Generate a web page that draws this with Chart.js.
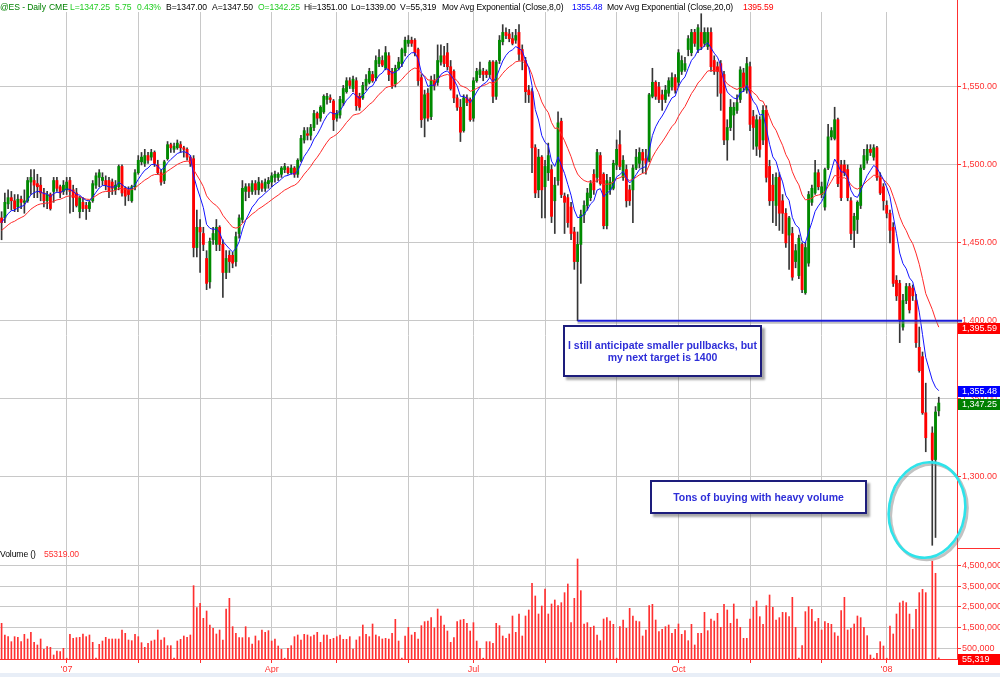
<!DOCTYPE html>
<html>
<head>
<meta charset="utf-8">
<title>@ES Daily</title>
<script src="https://cdn.jsdelivr.net/npm/chart.js@4.4.1/dist/chart.umd.min.js"></script>
<style>
  html, body { margin:0; padding:0; background:#ffffff; }
  #wrap { position:relative; width:1000px; height:677px; overflow:hidden; background:#fff;
          font-family:"Liberation Sans", Arial, Helvetica, sans-serif; }
  #c { position:absolute; left:0; top:0; }
  .t { position:absolute; top:2px; font-size:8.6px; line-height:11px; letter-spacing:-0.1px; white-space:nowrap; }
  .note { position:absolute; box-sizing:border-box; background:#fff; border:2px solid #1d1d7c;
          box-shadow:3px 3px 2px rgba(95,95,95,0.55); color:#2e2ed8; font-weight:bold;
          font-size:10.5px; line-height:12.5px; text-align:center; display:flex;
          align-items:center; justify-content:center; }
  #strip { position:absolute; left:0; top:673px; width:1000px; height:4px; background:#e8eef7; }
</style>
</head>
<body>
<div id="wrap">
  <canvas id="c" width="1000" height="677"></canvas>
  <span class="t" style="left:0px;color:#008000">@ES - Daily</span>
  <span class="t" style="left:49px;color:#008000">CME</span>
  <span class="t" style="left:70px;color:#22cc22">L=1347.25</span>
  <span class="t" style="left:115px;color:#22cc22">5.75</span>
  <span class="t" style="left:137px;color:#22cc22">0.43%</span>
  <span class="t" style="left:166px;color:#000">B=1347.00</span>
  <span class="t" style="left:212px;color:#000">A=1347.50</span>
  <span class="t" style="left:258px;color:#22cc22">O=1342.25</span>
  <span class="t" style="left:304px;color:#000">Hi=1351.00</span>
  <span class="t" style="left:351px;color:#000">Lo=1339.00</span>
  <span class="t" style="left:400px;color:#000">V=55,319</span>
  <span class="t" style="left:442px;color:#000">Mov Avg Exponential (Close,8,0)</span>
  <span class="t" style="left:572px;color:#0000ff">1355.48</span>
  <span class="t" style="left:607px;color:#000">Mov Avg Exponential (Close,20,0)</span>
  <span class="t" style="left:743px;color:#ff0000">1395.59</span>
  <span class="t" style="left:0px;top:549px;color:#000">Volume ()</span>
  <span class="t" style="left:44px;top:549px;color:#ff3030">55319.00</span>
  <div class="note" style="left:563px;top:325px;width:199px;height:52px;">I still anticipate smaller pullbacks, but<br>my next target is 1400</div>
  <div class="note" style="left:650px;top:480px;width:217px;height:34px;">Tons of buying with heavy volume</div>
  <div id="strip"></div>
</div>
<script>
// ---------------- data ----------------
const MONTH_STARTS = [20,42,61,83,103,125,145,167,189,208,230,252,272];
const MONTH_LABELS = ["'07","","","Apr","","","Jul","","","Oct","","","'08"];
const PRICE_TICKS  = [1300,1350,1400,1450,1500,1550];
const VOLUME_TICKS = [500000,1000000,1500000,2000000,2500000,3000000,3500000,4000000,4500000];

// one entry per trading-day slot; null = no session (holiday gap)
const OPEN = [
1466,1466,1475,1479,1477,1473,1478,1476,1477,1489,
1490,1488,1487,1482,1477,1481,1483,1490,1486,1483,
1484,1490,1484,1482,1470,1476,1474,1472,1477,1487,
1492,1490,1490,1490,1489,1484,1486,1499,1485,1484,
1477,1486,1495,1502,1501,1506,1505,1508,1500,1495,
1490,1504,1513,1510,1511,1513,1511,1510,1505,1504,
1447,1460,1456,1440,1425,1452,1449,1460,1449,1431,
1442,1442,1438,1456,1465,1483,1486,1483,1488,1484,
1488,1485,1488,1489,1492,1492,1494,1497,1498,1495,
1498,1494,1503,1516,1520,1519,1524,1533,1530,1534,
1542,1543,1541,1530,1532,1540,1547,1554,1549,1554,
1544,1543,1551,1553,1558,1556,1565,1567,1562,1570,
1560,1552,1562,1565,1572,1578,1580,1580,1574,1556,
1530,1546,1531,1554,1553,1566,1570,1572,1563,1560,
1543,1537,1522,1543,1542,1530,1554,1558,1560,1560,
1558,1566,1544,1567,1579,1585,1584,1581,1580,1585,
1574,1567,1548,1547,1511,1484,1505,1486,1495,1497,
1477,1490,1528,1480,1479,1473,1457,1438,1449,1468,
1474,1479,1494,1492,1506,1494,1461,1484,1485,1500,
1513,1492,1497,1484,1484,1498,1501,1508,1504,1503,
1544,1553,1550,1545,1542,1546,1550,1556,1553,1560,
1561,1574,1572,1585,1574,1585,1578,1576,1585,1567,
1563,1565,1558,1516,1524,1532,1535,1542,1559,1548,
1563,1531,1512,1529,1516,1535,1499,1487,1474,1492,
1477,1469,1455,1456,1438,1429,1449,1418,1437,1476,
1482,1495,1481,1473,1498,1518,1517,1529,1500,1500,
1497,1477,1458,1465,1474,1498,1503,1510,1505,1511,
1492,1486,1474,1469,1460,1426,1424,1396,1413,1422,
1421,1413,1383,1377,1341,null,1328,1311,1342.25];

const HIGH = [
1470,1482,1484,1483,1481,1481,1480,1484,1492,1497,
1497,1494,1492,1485,1483,1482,1492,1492,1487,1490,
1492,1492,1487,1485,1480,1479,1476,1477,1490,1495,
1497,1495,1493,1492,1491,1490,1500,1500,1486,1486,
1487,1497,1506,1508,1510,1508,1510,1509,1503,1497,
1503,1515,1514,1514,1516,1515,1512,1511,1506,1506,
1471,1465,1460,1445,1453,1460,1465,1461,1452,1445,
1445,1444,1457,1468,1490,1488,1488,1490,1490,1492,
1490,1491,1492,1495,1496,1495,1499,1501,1499,1500,
1499,1504,1519,1524,1524,1526,1535,1534,1538,1545,
1546,1545,1542,1535,1544,1551,1556,1556,1557,1556,
1546,1553,1558,1562,1560,1570,1574,1570,1576,1572,
1562,1564,1569,1575,1582,1583,1582,1581,1575,1558,
1548,1549,1557,1558,1577,1577,1576,1578,1567,1561,
1545,1542,1545,1545,1543,1556,1562,1566,1562,1561,
1567,1567,1567,1583,1590,1588,1587,1585,1587,1590,
1577,1569,1551,1549,1513,1510,1506,1503,1514,1500,
1492,1534,1530,1482,1481,1476,1460,1457,1471,1477,
1485,1490,1497,1510,1508,1495,1494,1492,1503,1516,
1522,1506,1500,1487,1500,1510,1511,1510,1510,1546,
1562,1554,1553,1548,1551,1556,1559,1558,1574,1570,
1569,1583,1587,1587,1590,1597,1588,1588,1588,1570,
1566,1567,1560,1529,1542,1540,1545,1563,1562,1569,
1566,1535,1532,1531,1538,1538,1503,1494,1495,1495,
1481,1472,1467,1460,1449,1455,1450,1450,1483,1487,
1503,1497,1489,1498,1526,1524,1537,1530,1503,1503,
1500,1479,1469,1477,1500,1510,1513,1513,1513,1512,
1495,1488,1477,1471,1463,1429,1426,1417,1424,1424,
1423,1417,1396,1380,1360,null,1332,1345,1351];

const LOW = [
1452,1463,1472,1471,1470,1470,1472,1469,1476,1481,
1479,1479,1477,1473,1472,1471,1476,1483,1479,1481,
1481,1469,1470,1473,1466,1470,1465,1470,1476,1485,
1486,1487,1484,1479,1481,1481,1484,1480,1474,1477,
1476,1484,1494,1500,1499,1501,1503,1499,1494,1487,
1488,1503,1508,1508,1510,1508,1505,1503,1499,1441,
1441,1431,1445,1420,1421,1449,1445,1445,1415,1427,
1431,1434,1435,1453,1463,1477,1479,1481,1481,1481,
1483,1483,1485,1486,1489,1490,1492,1495,1494,1494,
1492,1492,1502,1514,1516,1516,1522,1526,1528,1533,
1539,1540,1522,1528,1530,1538,1546,1549,1547,1535,
1535,1542,1548,1552,1553,1554,1563,1563,1561,1554,
1549,1550,1561,1563,1570,1576,1576,1570,1551,1524,
1518,1528,1529,1548,1551,1564,1563,1561,1548,1540,
1535,1515,1521,1538,1528,1528,1553,1556,1554,1556,
1556,1540,1542,1565,1577,1581,1579,1577,1578,1567,
1561,1540,1540,1495,1479,1479,1466,1466,1490,1463,
1456,1487,1479,1456,1460,1452,1433,1400,1424,1463,
1471,1477,1481,1489,1487,1459,1459,1481,1484,1497,
1497,1490,1473,1474,1463,1497,1498,1495,1494,1502,
1543,1542,1540,1535,1540,1544,1548,1546,1550,1558,
1560,1570,1570,1576,1572,1574,1576,1574,1560,1558,
1544,1535,1513,1503,1522,1516,1533,1540,1547,1546,
1522,1510,1506,1505,1513,1489,1474,1463,1461,1458,
1456,1447,1433,1426,1434,1427,1418,1417,1435,1474,
1481,1484,1479,1471,1497,1516,1516,1486,1477,1493,
1477,1452,1447,1456,1472,1497,1501,1506,1503,1490,
1481,1471,1466,1450,1422,1413,1386,1394,1411,1405,
1413,1383,1367,1340,1316,null,1256,1261,1339];

const CLOSE = [
1463,1476,1479,1477,1472,1478,1476,1477,1490,1492,
1487,1486,1482,1477,1481,1472,1490,1485,1482,1487,
1489,1483,1479,1474,1479,1472,1472,1476,1488,1493,
1495,1492,1487,1483,1485,1487,1499,1482,1480,1481,
1486,1495,1503,1505,1506,1503,1508,1501,1495,1489,
1502,1513,1511,1512,1514,1511,1510,1505,1501,1447,
1460,1457,1449,1424,1451,1456,1460,1449,1431,1440,
1438,1437,1454,1466,1485,1486,1483,1488,1484,1489,
1485,1489,1490,1493,1494,1494,1498,1499,1495,1498,
1494,1503,1517,1522,1519,1524,1533,1530,1537,1544,
1544,1542,1529,1533,1542,1549,1554,1551,1555,1538,
1537,1551,1555,1560,1554,1567,1569,1564,1572,1558,
1551,1562,1566,1574,1580,1580,1578,1572,1554,1529,
1545,1530,1554,1551,1567,1570,1565,1563,1549,1543,
1537,1521,1543,1540,1529,1554,1560,1561,1558,1558,
1566,1544,1566,1580,1585,1583,1581,1578,1583,1571,
1567,1547,1545,1511,1482,1505,1484,1499,1506,1467,
1487,1527,1481,1476,1463,1456,1438,1449,1468,1474,
1482,1488,1484,1508,1488,1461,1490,1489,1501,1510,
1499,1503,1477,1477,1498,1505,1508,1503,1501,1545,
1553,1544,1542,1542,1548,1554,1556,1548,1572,1567,
1565,1581,1585,1578,1588,1576,1585,1585,1563,1560,
1560,1546,1516,1524,1537,1537,1540,1561,1550,1565,
1526,1524,1529,1510,1535,1492,1477,1477,1492,1469,
1469,1450,1466,1428,1445,1453,1420,1447,1481,1485,
1495,1486,1486,1497,1518,1522,1529,1488,1479,1495,
1479,1456,1467,1476,1498,1506,1510,1508,1511,1492,
1482,1477,1469,1458,1424,1416,1400,1413,1422,1407,
1416,1386,1368,1341,1325,null,1311,1341.5,1347.25];

// contracts, in thousands
const VOLUME_K = [
1715,1154,1074,833,1074,1042,833,1186,962,1282,
801,673,962,465,593,561,192,385,353,513,
40,1186,994,1026,1042,1202,1074,1154,801,40,
705,865,1042,962,962,962,962,1394,1234,913,
881,1186,1074,785,561,753,865,913,1394,913,
1026,641,641,40,865,946,1106,1042,1154,3526,
2468,2676,1955,2308,1635,1474,1202,1394,913,2404,
2917,1554,1234,1026,1026,1554,1026,721,1106,881,
1394,1282,1362,865,962,625,465,40,513,641,
1074,1154,913,1186,1154,1074,1154,1282,801,1154,
1154,946,994,1074,1154,946,946,1074,481,913,
1074,1635,1186,1074,1683,1154,1074,962,994,962,
1234,1907,865,40,1106,1522,1154,1282,962,1603,
1795,1827,1987,1506,2404,2067,1635,1346,801,1026,
1795,1875,1907,1715,1346,1747,865,513,40,833,
833,753,1715,1603,1106,994,1202,2067,1282,2163,
1106,2067,2356,3638,3029,2163,2548,3365,2163,2644,
2837,2564,2708,3189,3606,1747,2917,4808,3285,1683,
1747,1522,1587,1154,881,1923,1987,1827,1667,40,
1554,1875,1474,2436,2067,1827,1795,1106,1394,2564,
2628,1875,1314,1426,1554,1635,1234,1426,1683,1186,
1362,881,1667,673,1234,1234,2244,1362,1923,1827,
2196,1522,2628,2356,1715,2644,1923,1522,994,994,
1923,2484,2788,2035,1667,2564,3077,2484,1875,1987,
2244,2228,2035,2965,1522,40,641,2276,2516,2388,
1795,1955,1394,1795,1715,1667,1266,1106,2324,2965,
1394,1474,1683,2067,1987,1522,1122,192,40,272,
833,625,40,1587,1202,2163,2700,2790,2710,2160,
1430,2390,3190,3350,3190,null,4700,4120,55.319];

const EMA8_START = 1463;     // blue line level at the left edge
const EMA20_START = 1458;    // red line level at the left edge
const LAST_EMA8 = 1355.48, LAST_EMA20 = 1395.59, LAST_CLOSE = 1347.25, LAST_VOLUME = 55319;
const TARGET_LEVEL = 1400, TARGET_FROM_BAR = 177;

// ---------------- helpers ----------------
function fmt(v, dec) {
  const s = Number(v).toFixed(dec);
  const parts = s.split('.');
  parts[0] = parts[0].replace(/\B(?=(\d{3})+(?!\d))/g, ',');
  return parts.join('.');
}
function ema(src, n, seed) {
  const a = 2 / (n + 1); const out = []; let e = null;
  for (let i = 0; i < src.length; i++) {
    if (src[i] === null) { out.push(null); continue; }
    e = (e === null) ? seed : e + a * (src[i] - e);
    out.push(e);
  }
  return out;
}
const ema8 = ema(CLOSE, 8, EMA8_START);
const ema20 = ema(CLOSE, 20, EMA20_START);
const idx = CLOSE.map((_, i) => i).filter(i => CLOSE[i] !== null);
const vidx = VOLUME_K.map((_, i) => i).filter(i => VOLUME_K[i] !== null);

const FONT = '"Liberation Sans", Arial, sans-serif';
const GREEN = '#008a00', RED = '#ff0000', WICK = '#363636', AX = '#ff3030', GRID = '#c8c8c8';

const overlay = {
  id: 'overlay',
  afterDraw(chart) {
    const { ctx, chartArea: ca, scales } = chart;
    const y = scales.y, yv = scales.yVol, x = scales.x;
    const R = Math.round(ca.right) + 0.5;
    ctx.save();
    ctx.strokeStyle = AX; ctx.lineWidth = 1;
    ctx.beginPath(); ctx.moveTo(R, 0); ctx.lineTo(R, ca.bottom); ctx.stroke();
    const sep = Math.round(y.bottom) + 0.5;
    ctx.beginPath(); ctx.moveTo(R, sep); ctx.lineTo(chart.width, sep); ctx.stroke();

    // target line at 1400
    const ty = y.getPixelForValue(TARGET_LEVEL);
    const tx = x.getPixelForValue(TARGET_FROM_BAR);
    ctx.lineWidth = 2;
    ctx.strokeStyle = 'rgba(140,140,140,0.55)';
    ctx.beginPath(); ctx.moveTo(tx, ty + 2); ctx.lineTo(ca.right + 5, ty + 2); ctx.stroke();
    ctx.strokeStyle = '#1c1cd8';
    ctx.beginPath(); ctx.moveTo(tx, ty); ctx.lineTo(ca.right + 5, ty); ctx.stroke();

    // value flags
    ctx.font = '9px ' + FONT; ctx.textBaseline = 'middle'; ctx.textAlign = 'left';
    const flag = (yc, color, text) => {
      ctx.fillStyle = color;
      ctx.fillRect(ca.right + 1, Math.round(yc - 5.5), chart.width - ca.right - 1, 11);
      ctx.fillStyle = '#ffffff';
      ctx.fillText(text, ca.right + 5, Math.round(yc - 5.5) + 6);
    };
    flag(y.getPixelForValue(LAST_EMA20) + 1, '#ff0000', fmt(LAST_EMA20, 2));
    flag(y.getPixelForValue(LAST_EMA8) + 1, '#0000ff', fmt(LAST_EMA8, 2));
    flag(y.getPixelForValue(LAST_CLOSE) + 1.5, '#008000', fmt(LAST_CLOSE, 2));
    flag(yv.getPixelForValue(0) + 0.5, '#ff0000', fmt(LAST_VOLUME, 0));

    // hand-drawn cyan ring
    ctx.lineWidth = 3;
    ctx.strokeStyle = 'rgba(120,120,120,0.45)';
    ctx.beginPath(); ctx.ellipse(929, 512, 38, 48, 0.16, 0, Math.PI * 2); ctx.stroke();
    ctx.strokeStyle = '#2fe3ea'; ctx.lineWidth = 2.6;
    ctx.beginPath(); ctx.ellipse(927, 510, 38, 48, 0.16, 0, Math.PI * 2); ctx.stroke();
    ctx.restore();
  }
};

new Chart(document.getElementById('c'), {
  type: 'bar',
  data: {
    datasets: [
      { type: 'line', label: 'EMA 8', data: idx.map(i => ({ x: i, y: ema8[i] })), yAxisID: 'y',
        borderColor: '#1414ff', borderWidth: 1, pointRadius: 0, tension: 0, order: 0 },
      { type: 'line', label: 'EMA 20', data: idx.map(i => ({ x: i, y: ema20[i] })), yAxisID: 'y',
        borderColor: '#ff2a2a', borderWidth: 1, pointRadius: 0, tension: 0, order: 1 },
      { label: 'body', data: idx.map(i => ({ x: i, y: [OPEN[i], CLOSE[i]] })), yAxisID: 'y',
        backgroundColor: idx.map(i => CLOSE[i] >= OPEN[i] ? GREEN : RED),
        barThickness: 2.2, grouped: false, borderWidth: 0, borderSkipped: false, minBarLength: 1, order: 2 },
      { label: 'wick', data: idx.map(i => ({ x: i, y: [LOW[i], HIGH[i]] })), yAxisID: 'y',
        backgroundColor: WICK, barThickness: 1, grouped: false, borderWidth: 0, borderSkipped: false, order: 3 },
      { label: 'volume', data: vidx.map(i => ({ x: i, y: VOLUME_K[i] * 1000 })), yAxisID: 'yVol',
        backgroundColor: '#ff3030', barThickness: 1, grouped: false, borderWidth: 0, order: 4 }
    ]
  },
  options: {
    responsive: false, animation: false, devicePixelRatio: 1,
    layout: { padding: { top: 12, left: 0, right: 0, bottom: 0 } },
    plugins: { legend: { display: false }, tooltip: { enabled: false } },
    scales: {
      x: {
        type: 'linear', position: 'bottom', min: -0.49, max: 293.6, offset: false,
        grid: { color: GRID, offset: false, drawTicks: true, tickLength: 4, tickColor: AX, lineWidth: 1 },
        border: { color: AX, width: 1 },
        ticks: { color: AX, font: { size: 9, family: FONT }, padding: 1, autoSkip: false, maxRotation: 0,
          callback: (v) => { const k = MONTH_STARTS.indexOf(v); return k >= 0 ? MONTH_LABELS[k] : ''; } },
        afterBuildTicks: (s) => { s.ticks = MONTH_STARTS.map(v => ({ value: v })); },
        afterFit: (s) => { s.height = 18; }
      },
      y: {
        type: 'linear', position: 'right', stack: 'panes', stackWeight: 536,
        min: 1254.26, max: 1598.1, offset: false, beginAtZero: false,
        grid: { color: GRID, drawTicks: true, tickLength: 4, tickColor: AX },
        border: { color: AX, width: 1 },
        ticks: { color: AX, font: { size: 9, family: FONT }, padding: 1, callback: (v) => fmt(v, 2) },
        afterBuildTicks: (s) => { s.ticks = PRICE_TICKS.map(v => ({ value: v })); },
        afterFit: (s) => { s.width = 43; }
      },
      yVol: {
        type: 'linear', position: 'right', stack: 'panes', stackWeight: 111,
        min: 0, max: 5336000, offset: false, beginAtZero: true,
        grid: { color: GRID, drawTicks: true, tickLength: 4,
          tickColor: (c) => (c.tick && Math.round(c.tick.value / 500000) % 2 === 1) ? AX : 'rgba(0,0,0,0)' },
        border: { color: AX, width: 1 },
        ticks: { color: AX, font: { size: 9, family: FONT }, padding: 1,
          callback: (v) => (Math.round(v / 500000) % 2 === 1) ? fmt(v, 0) : '' },
        afterBuildTicks: (s) => { s.ticks = VOLUME_TICKS.map(v => ({ value: v })); },
        afterFit: (s) => { s.width = 43; }
      }
    }
  },
  plugins: [overlay]
});
</script>
</body>
</html>
